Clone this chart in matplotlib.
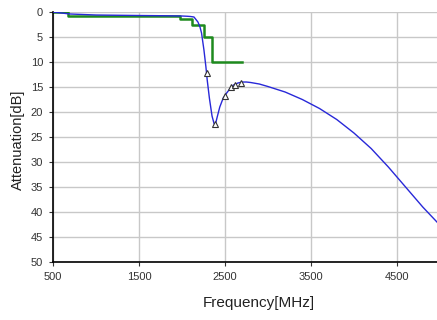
import matplotlib
matplotlib.use("Agg")
import matplotlib.pyplot as plt

plt.rcParams['font.family'] = ['Liberation Sans', 'DejaVu Sans']

# Blue simulated response
freq = [500, 600, 700, 1000, 1500, 1800, 2000, 2060, 2100, 2140, 2186, 2210, 2228,
        2256, 2279, 2294, 2320, 2350, 2375, 2390, 2410, 2440, 2480, 2520, 2560, 2600,
        2650, 2700, 2750, 2800, 2900, 3000, 3200, 3400, 3600, 3800, 4000, 4200,
        4400, 4600, 4800, 4965]
atten = [0.0, 0.2, 0.4, 0.6, 0.7, 0.75, 0.8, 0.85, 0.9, 1.0, 2.0, 3.0, 4.2,
         7.6, 11.0, 13.6, 17.3, 20.8, 22.4, 22.4, 21.0, 19.0, 17.2, 16.2, 15.3, 14.6,
         14.2, 14.0, 14.0, 14.1, 14.4, 14.9, 16.0, 17.5, 19.3, 21.5, 24.2, 27.3,
         31.0, 35.0, 39.0, 42.0]

# Measured points (triangles)
meas_freq = [2290, 2390, 2500, 2570, 2615, 2685]
meas_att = [12.2, 22.3, 16.7, 15.0, 14.5, 14.1]

# Green spec mask (step)
mask_freq = [500, 680, 680, 1980, 1980, 2115, 2115, 2260, 2260, 2350, 2350, 2700]
mask_att = [0.0, 0.0, 0.75, 0.75, 1.4, 1.4, 2.6, 2.6, 5.0, 5.0, 10.0, 10.0]

x_ticks = [500, 1500, 2500, 3500, 4500]
y_ticks = [0, 5, 10, 15, 20, 25, 30, 35, 40, 45, 50]

fig = plt.figure(figsize=(4.37, 3.2), dpi=100)
ax = fig.add_axes([0.121, 0.181, 0.879, 0.7815])

ax.plot(mask_freq, mask_att, color='#1e8a1e', lw=1.8, zorder=2)
ax.plot(freq, atten, color='#2828d8', lw=1.0, zorder=3)
ax.plot(meas_freq, meas_att, linestyle='none', marker='^', markersize=5,
        markerfacecolor='white', markeredgecolor='#333333', markeredgewidth=0.8, zorder=4)

ax.set_xlim(500, 4965)
ax.set_ylim(50, 0)
ax.set_xticks(x_ticks)
ax.set_yticks(y_ticks)
ax.tick_params(labelsize=8, length=3, width=0.8, color='#333333',
               labelcolor='#333333', pad=4)
ax.grid(True, color='#c8c8c8', lw=1.0)
ax.set_axisbelow(True)

for s in ['top', 'right']:
    ax.spines[s].set_visible(False)
ax.spines['left'].set_linewidth(1.2)
ax.spines['bottom'].set_linewidth(1.2)

ax.set_ylabel('Attenuation[dB]', fontsize=10.5, color='#222222')
ax.yaxis.set_label_coords(-0.073, 0.49)
ax.set_xlabel('Frequency[MHz]', fontsize=11, color='#222222')
ax.xaxis.set_label_coords(0.536, -0.135)

fig.savefig('out.png', dpi=100)
